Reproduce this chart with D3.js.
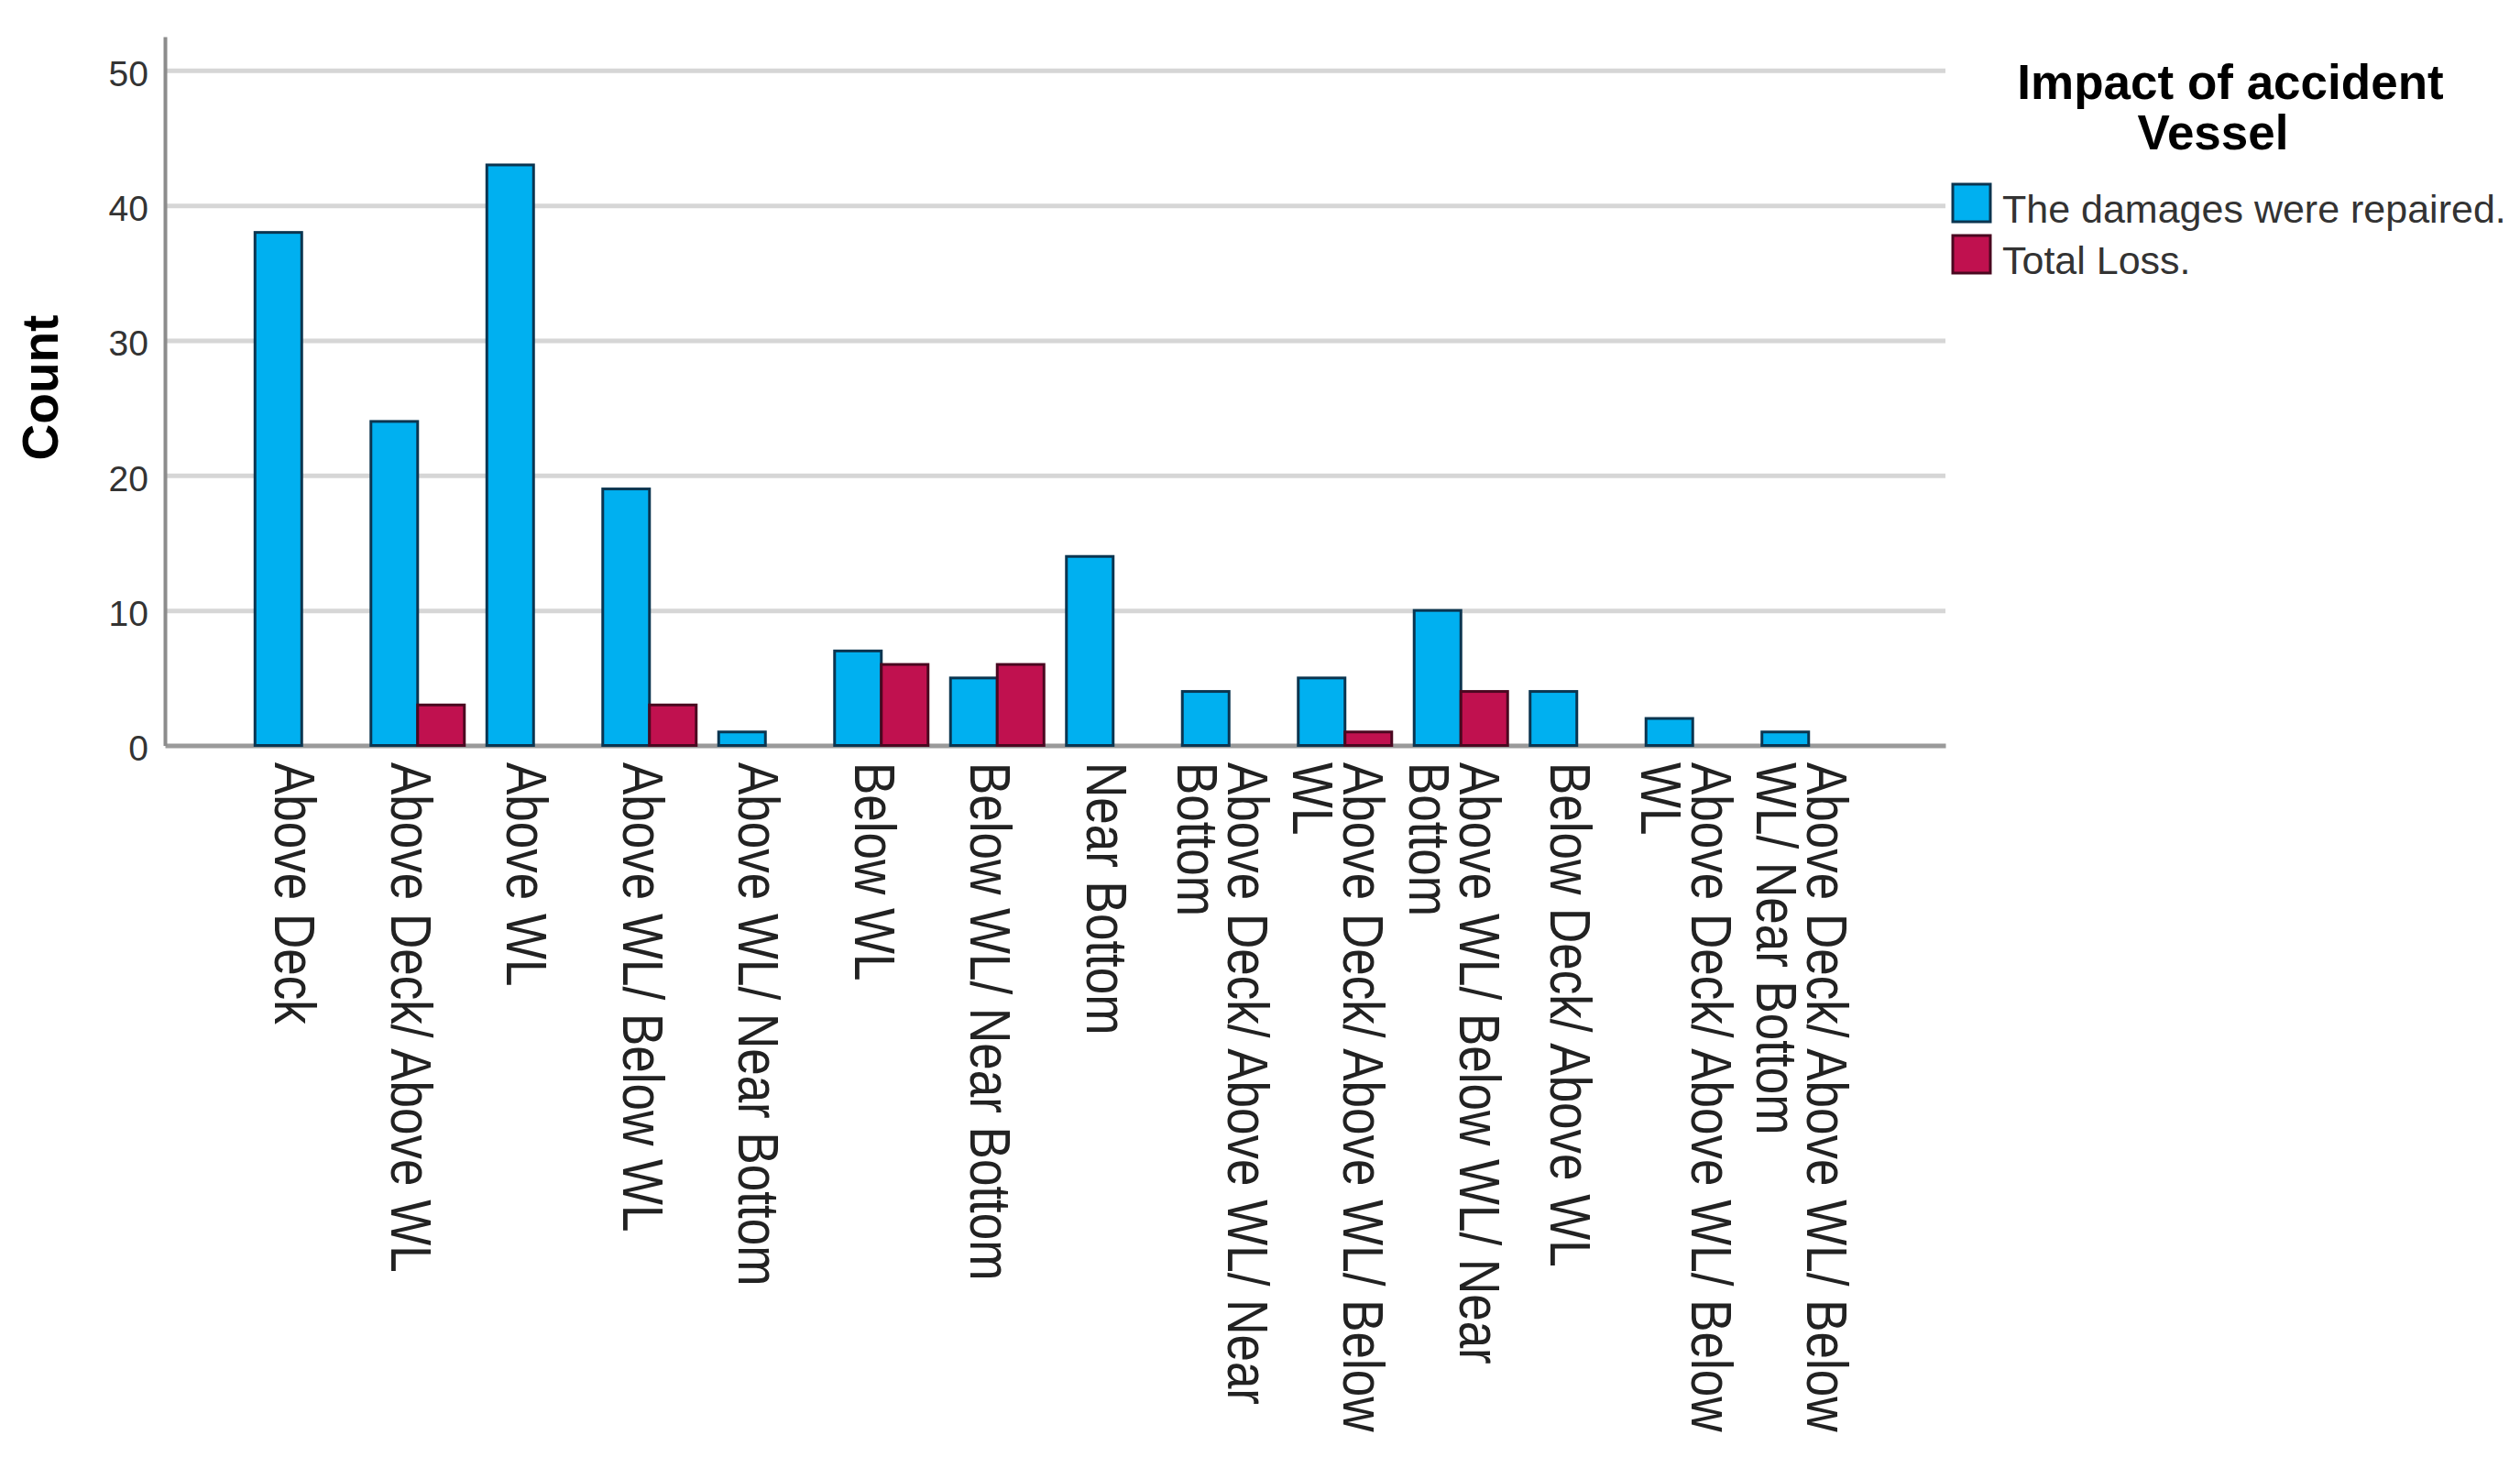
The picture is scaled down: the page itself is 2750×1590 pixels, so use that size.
<!DOCTYPE html>
<html>
<head>
<meta charset="utf-8">
<script src="https://cdn.jsdelivr.net/npm/d3@7"></script>
<style>
  html, body { margin: 0; padding: 0; background: #ffffff; }
  svg { display: block; font-family: "Liberation Sans", Arial, sans-serif; }
</style>
</head>
<body>
<script>
// ---------- data ----------
const categories = [
  "Above Deck",
  "Above Deck/ Above WL",
  "Above WL",
  "Above WL/ Below WL",
  "Above WL/ Near Bottom",
  "Below WL",
  "Below WL/ Near Bottom",
  "Near Bottom",
  "Above Deck/ Above WL/ Near Bottom",
  "Above Deck/ Above WL/ Below WL",
  "Above WL/ Below WL/ Near Bottom",
  "Below Deck/ Above WL",
  "Above Deck/ Above WL/ Below WL",
  "Above Deck/ Above WL/ Below WL/ Near Bottom"
];
const repaired  = [38, 24, 43, 19, 1, 7, 5, 14, 4, 5, 10, 4, 2, 1];
const totalLoss = [0, 3, 0, 3, 0, 6, 6, 0, 0, 1, 4, 0, 0, 0];
const seriesNames = ["The damages were repaired.", "Total Loss."];
const legendTitle = ["Impact of accident", "Vessel"];
const yTicks = [0, 10, 20, 30, 40, 50];
const yTitle = "Count";

(function () {
// ---------- styles ----------
const fills = ["#00b0f0", "#c0114f"];
const strokes = ["#0b3550", "#4a0820"];

const W = 2750, H = 1590;
const plotLeft = 180, plotRight = 2123, plotBase = 813.5, plotTop = 40;

const svg = d3.select("body").append("svg").attr("width", W).attr("height", H);
svg.append("rect").attr("width", W).attr("height", H).attr("fill", "#ffffff");

const x = d3.scaleBand().domain(d3.range(categories.length))
  .range([plotLeft, plotRight]).paddingInner(0).paddingOuter(0.68);
const xs = d3.scaleBand().domain([0, 1])
  .range([x.bandwidth() / 2 - 51, x.bandwidth() / 2 + 51]);
const y = d3.scaleLinear().domain([0, 52.5]).range([plotBase, plotTop]);

// gridlines
const grid = svg.append("g").attr("transform", `translate(${plotLeft},0)`)
  .call(d3.axisLeft(y).tickValues(yTicks.filter(d => d > 0)).tickSize(-(plotRight - plotLeft)).tickFormat(""));
grid.select(".domain").remove();
grid.selectAll(".tick line").attr("stroke", "#d6d6d6").attr("stroke-width", 5);

// x axis (baseline + labels)
const xAxis = svg.append("g").attr("transform", `translate(0,${plotBase})`)
  .call(d3.axisBottom(x).tickSize(0).tickSizeOuter(0).tickFormat(i => categories[i]));
xAxis.select(".domain").attr("stroke", "#9a9a9a").attr("stroke-width", 5);

// y axis
const yAxis = svg.append("g").attr("transform", `translate(${plotLeft},0)`)
  .call(d3.axisLeft(y).tickValues(yTicks).tickSize(0).tickSizeOuter(0).tickPadding(18));
yAxis.select(".domain").attr("stroke", "#8c8c8c").attr("stroke-width", 4);
yAxis.selectAll(".tick text")
  .attr("font-size", 39).attr("fill", "#333333").attr("dy", "0.42em")
  .attr("font-family", "'Liberation Sans', Arial, sans-serif");

// bars
const data = [];
categories.forEach((c, i) => {
  [repaired[i], totalLoss[i]].forEach((v, j) => {
    if (v > 0) data.push({ i, j, v });
  });
});
svg.append("g").selectAll("rect").data(data).join("rect")
  .attr("x", d => x(d.i) + xs(d.j))
  .attr("width", xs.bandwidth())
  .attr("y", d => y(d.v))
  .attr("height", d => y(0) - y(d.v))
  .attr("fill", d => fills[d.j])
  .attr("stroke", d => strokes[d.j])
  .attr("stroke-width", 3);

// x labels: rotated, wrapped
const labelFont = 53, capH = 46, lineH = 55, sy = 1.2, maxLen = 760;
const measure = svg.append("text").attr("font-size", labelFont)
  .attr("font-family", "'Liberation Sans', Arial, sans-serif").attr("visibility", "hidden");
function wrap(str) {
  const words = str.split(" ");
  const lines = [];
  let cur = "";
  words.forEach(w => {
    const test = cur ? cur + " " + w : w;
    measure.text(test);
    if (cur && measure.node().getComputedTextLength() > maxLen) {
      lines.push(cur);
      cur = w;
    } else cur = test;
  });
  if (cur) lines.push(cur);
  return lines;
}
xAxis.selectAll(".tick text").each(function (i) {
  const t = d3.select(this);
  const lines = wrap(categories[i]);
  const n = lines.length;
  const total = capH + (n - 1) * lineH;
  t.text(null)
    .attr("y", null).attr("dy", null)
    .attr("font-size", labelFont).attr("fill", "#222222")
    .attr("font-family", "'Liberation Sans', Arial, sans-serif")
    .attr("text-anchor", "start")
    .attr("transform", `translate(0,18.5) rotate(90) scale(1,${sy})`);
  lines.forEach((ln, k) => {
    const off = -6 + total / 2 - capH - k * lineH;
    t.append("tspan").attr("x", 0).attr("y", -off / sy).text(ln);
  });
});
measure.remove();

// y title
svg.append("text")
  .attr("transform", "translate(44,423) rotate(-90)")
  .attr("text-anchor", "middle").attr("dominant-baseline", "central")
  .attr("font-size", 55).attr("font-weight", "bold").attr("fill", "#000")
  .text(yTitle);

// legend
const lg = svg.append("g");
const titleX = [2434, 2415], titleY = [108, 163];
legendTitle.forEach((t, k) => {
  lg.append("text").attr("x", titleX[k]).attr("y", titleY[k])
    .attr("text-anchor", "middle").attr("font-size", 53).attr("font-weight", "bold")
    .attr("fill", "#000").text(t);
});
seriesNames.forEach((s, k) => {
  lg.append("rect").attr("x", 2131).attr("y", 201 + k * 56).attr("width", 41).attr("height", 41)
    .attr("fill", fills[k]).attr("stroke", strokes[k]).attr("stroke-width", 3);
  lg.append("text").attr("x", 2185).attr("y", 243 + k * 56)
    .attr("font-size", 43).attr("fill", "#333333").text(s);
});
})();
</script>
</body>
</html>
